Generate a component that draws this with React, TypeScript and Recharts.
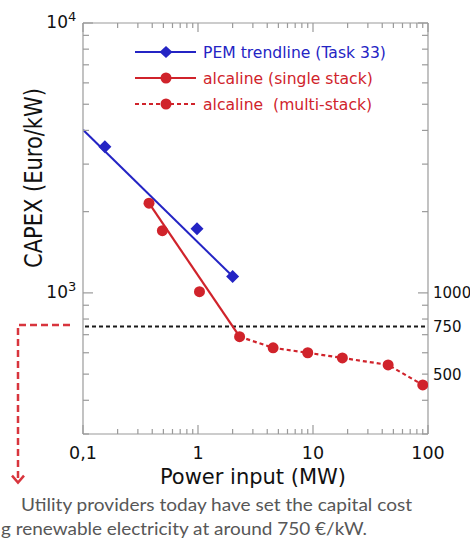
import React from 'react';
import { ComposedChart, Line, XAxis, YAxis, ReferenceLine } from 'recharts';

// ---------- data ----------
const xMajorTicks = [0.1, 1, 10, 100];
const xMajorLabels = ['0,1', '1', '10', '100'];
const xMinorTicks = [0.2, 0.3, 0.4, 0.5, 0.6, 0.7, 0.8, 0.9, 2, 3, 4, 5, 6, 7, 8, 9, 20, 30, 40, 50, 60, 70, 80, 90];
const yMajorTicks = [1000, 10000];
const yMajorExponents = ['3', '4'];
const yMinorTicks = [300, 400, 500, 600, 700, 800, 900, 2000, 3000, 4000, 5000, 6000, 7000, 8000, 9000];
const yRightLabelValues = [500, 750, 1000];
const yRightLabels = ['500', '750', '1000'];
const thresholdValue = 750;

const pemTrendX = [0.1, 2.05];
const pemTrendY = [4020, 1140];
const pemX = [0.155, 0.98, 2.0];
const pemY = [3480, 1730, 1150];
const alkSingleTrendX = [0.375, 2.3];
const alkSingleTrendY = [2150, 688];
const alkSingleX = [0.375, 0.49, 1.03];
const alkSingleY = [2150, 1700, 1010];
const alkMultiX = [2.3, 4.5, 9, 18, 45, 90];
const alkMultiY = [688, 626, 600, 574, 541, 456];

const legendLabels = ['PEM trendline (Task 33)', 'alcaline (single stack)', 'alcaline  (multi-stack)'];
const xTitle = 'Power input (MW)';
const yTitle = 'CAPEX (Euro/kW)';
const captionLines = [
  'Utility providers today have set the capital cost',
  'g renewable electricity at around 750 €/kW.',
];

// ---------- styles ----------
const W = 470;
const H = 542;
const BLUE = '#2424c4';
const RED = '#d0232b';
const ANNOT = '#d8353d';
const AXIS = '#9a9a9a';
const FONT = '"DejaVu Sans", sans-serif';

const toPts = (xs: number[], ys: number[]) => xs.map((x, i) => ({ x, y: ys[i] }));
const pemTrend = toPts(pemTrendX, pemTrendY);
const pemPts = toPts(pemX, pemY);
const alkSingleTrend = toPts(alkSingleTrendX, alkSingleTrendY);
const alkSinglePts = toPts(alkSingleX, alkSingleY);
const alkMulti = toPts(alkMultiX, alkMultiY);

const xAllTicks = [...xMajorTicks, ...xMinorTicks].sort((a, b) => a - b);
const yLeftTicks = [...yMajorTicks, ...yMinorTicks].sort((a, b) => a - b);
const yRightTicks = [...new Set([...yLeftTicks, ...yRightLabelValues])].sort((a, b) => a - b);

const findIdx = (arr: number[], v: number) =>
  arr.findIndex((t) => Math.abs(Math.log10(t) - Math.log10(v)) < 1e-6);

const BottomTick = (p: any) => {
  const { x, y, payload } = p;
  const i = findIdx(xMajorTicks, payload.value);
  const major = i >= 0;
  return (
    <g>
      <line x1={x} x2={x} y1={y} y2={y - (major ? 9 : 5)} stroke={AXIS} strokeWidth={1.2} />
      {major && (
        <text x={x} y={y + 25} textAnchor="middle" fontFamily={FONT} fontSize={17.5} fill="#111">
          {xMajorLabels[i]}
        </text>
      )}
    </g>
  );
};

const TopTick = (p: any) => {
  const { x, y, payload } = p;
  const major = findIdx(xMajorTicks, payload.value) >= 0;
  return <line x1={x} x2={x} y1={y} y2={y + (major ? 9 : 5)} stroke={AXIS} strokeWidth={1.2} />;
};

const LeftTick = (p: any) => {
  const { x, y, payload } = p;
  const i = findIdx(yMajorTicks, payload.value);
  const major = i >= 0;
  return (
    <g>
      <line x1={x} x2={x + (major ? 10 : 6)} y1={y} y2={y} stroke={AXIS} strokeWidth={1.2} />
      {major && (
        <g fontFamily={FONT} fill="#111">
          <text x={x - 15} y={y + 5} textAnchor="end" fontSize={17}>10</text>
          <text x={x - 15} y={y - 2} textAnchor="start" fontSize={13}>{yMajorExponents[i]}</text>
        </g>
      )}
    </g>
  );
};

const RightTick = (p: any) => {
  const { x, y, payload } = p;
  const v = payload.value;
  const li = findIdx(yRightLabelValues, v);
  const major = findIdx(yMajorTicks, v) >= 0;
  const hasLine = findIdx(yLeftTicks, v) >= 0;
  return (
    <g>
      {hasLine && <line x1={x} x2={x - (major ? 10 : 6)} y1={y} y2={y} stroke={AXIS} strokeWidth={1.2} />}
      {li >= 0 && (
        <text x={x + 5} y={y + 5.5} textAnchor="start" fontFamily={FONT} fontSize={15} fill="#111">
          {yRightLabels[li]}
        </text>
      )}
    </g>
  );
};

const Diamond = (p: any) => {
  const { cx, cy, index } = p;
  if (cx == null || cy == null) return <g key={index} />;
  return <path key={index} d={`M ${cx} ${cy - 6.5} L ${cx + 6.5} ${cy} L ${cx} ${cy + 6.5} L ${cx - 6.5} ${cy} Z`} fill={BLUE} />;
};

const RedDot = (p: any) => {
  const { cx, cy, index } = p;
  if (cx == null || cy == null) return <g key={index} />;
  return <circle key={index} cx={cx} cy={cy} r={5.5} fill={RED} />;
};

const ThresholdShape = (p: any) => {
  const { x1, x2, y1 } = p;
  const left = Math.min(x1, x2);
  const right = Math.max(x1, x2);
  const y = y1;
  return (
    <g>
      <line x1={left + 2} x2={right} y1={y} y2={y} stroke="#1a1a1a" strokeWidth={2} strokeDasharray="4 3" />
      <path
        d={`M ${left - 13} ${y - 1.5} H ${left - 65} V ${y + 154}`}
        fill="none"
        stroke={ANNOT}
        strokeWidth={2.5}
        strokeDasharray="7 4"
      />
      <path
        d={`M ${left - 71} ${y + 149} L ${left - 65} ${y + 156} L ${left - 59} ${y + 149}`}
        fill="none"
        stroke={ANNOT}
        strokeWidth={2.5}
      />
    </g>
  );
};

const legendRows = [
  { color: BLUE, dash: undefined as string | undefined, marker: 'diamond' },
  { color: RED, dash: undefined as string | undefined, marker: 'circle' },
  { color: RED, dash: '4 3', marker: 'circle' },
];

export default function App() {
  return (
    <div style={{ position: 'absolute', left: 0, top: 0, width: W, height: H, background: '#fff' }}>
      <ComposedChart width={W} height={H} margin={{ top: 23, right: 0, bottom: 68, left: 23 }}>
        <XAxis
          dataKey="x"
          type="number"
          scale="log"
          domain={[0.1, 100]}
          allowDataOverflow
          ticks={xAllTicks}
          interval={0}
          tickSize={0}
          tickMargin={0}
          tickLine={false}
          tick={<BottomTick />}
          height={40}
          axisLine={{ stroke: AXIS, strokeWidth: 1.2 }}
        />
        <XAxis
          xAxisId="top"
          orientation="top"
          mirror
          dataKey="x"
          type="number"
          scale="log"
          domain={[0.1, 100]}
          allowDataOverflow
          ticks={xAllTicks}
          interval={0}
          tickSize={0}
          tickMargin={0}
          tickLine={false}
          tick={<TopTick />}
          height={10}
          axisLine={{ stroke: AXIS, strokeWidth: 1.2 }}
        />
        <YAxis
          type="number"
          scale="log"
          domain={[300, 10000]}
          allowDataOverflow
          ticks={yLeftTicks}
          interval={0}
          tickSize={0}
          tickMargin={0}
          tickLine={false}
          tick={<LeftTick />}
          width={60}
          axisLine={{ stroke: AXIS, strokeWidth: 1.2 }}
        />
        <YAxis
          yAxisId="r"
          orientation="right"
          type="number"
          scale="log"
          domain={[300, 10000]}
          allowDataOverflow
          ticks={yRightTicks}
          interval={0}
          tickSize={0}
          tickMargin={0}
          tickLine={false}
          tick={<RightTick />}
          width={42}
          axisLine={{ stroke: AXIS, strokeWidth: 1.2 }}
        />
        <ReferenceLine y={thresholdValue} shape={<ThresholdShape />} />
        <Line data={pemTrend} dataKey="y" stroke={BLUE} strokeWidth={2} dot={false} activeDot={false} isAnimationActive={false} />
        <Line data={alkSingleTrend} dataKey="y" stroke={RED} strokeWidth={2.2} dot={false} activeDot={false} isAnimationActive={false} />
        <Line data={alkMulti} dataKey="y" stroke={RED} strokeWidth={2.2} strokeDasharray="4 3" dot={RedDot} activeDot={false} isAnimationActive={false} />
        <Line data={pemPts} dataKey="y" stroke="none" dot={Diamond} activeDot={false} isAnimationActive={false} />
        <Line data={alkSinglePts} dataKey="y" stroke="none" dot={RedDot} activeDot={false} isAnimationActive={false} />
      </ComposedChart>
      <svg width={W} height={H} style={{ position: 'absolute', left: 0, top: 0, pointerEvents: 'none' }}>
        {legendRows.map((r, i) => {
          const y = 52 + i * 26;
          return (
            <g key={i}>
              <line x1={135} x2={196} y1={y} y2={y} stroke={r.color} strokeWidth={2} strokeDasharray={r.dash} />
              {r.marker === 'diamond' ? (
                <path d={`M 166 ${y - 6} L 172.5 ${y} L 166 ${y + 6} L 159.5 ${y} Z`} fill={r.color} />
              ) : (
                <circle cx={166} cy={y} r={5.5} fill={r.color} />
              )}
              <text x={203} y={y + 5.5} fontFamily={FONT} fontSize={15.6} fill={r.color} style={{ whiteSpace: 'pre' }}>
                {legendLabels[i]}
              </text>
            </g>
          );
        })}
        <text x={253} y={484} textAnchor="middle" fontFamily={FONT} fontSize={21} fill="#111">
          {xTitle}
        </text>
        <text
          transform="translate(33,178) rotate(-90) scale(1,1.2)"
          x={0}
          y={7.5}
          textAnchor="middle"
          fontFamily={FONT}
          fontSize={21}
          fill="#111"
        >
          {yTitle}
        </text>
        <text x={21} y={511} fontFamily="Lato, 'Open Sans', sans-serif" fontSize={17.5} fill="#575757" textLength={391} lengthAdjust="spacingAndGlyphs">
          {captionLines[0]}
        </text>
        <text x={1} y={535} fontFamily="Lato, 'Open Sans', sans-serif" fontSize={17.5} fill="#575757" textLength={366} lengthAdjust="spacingAndGlyphs">
          {captionLines[1]}
        </text>
      </svg>
    </div>
  );
}
